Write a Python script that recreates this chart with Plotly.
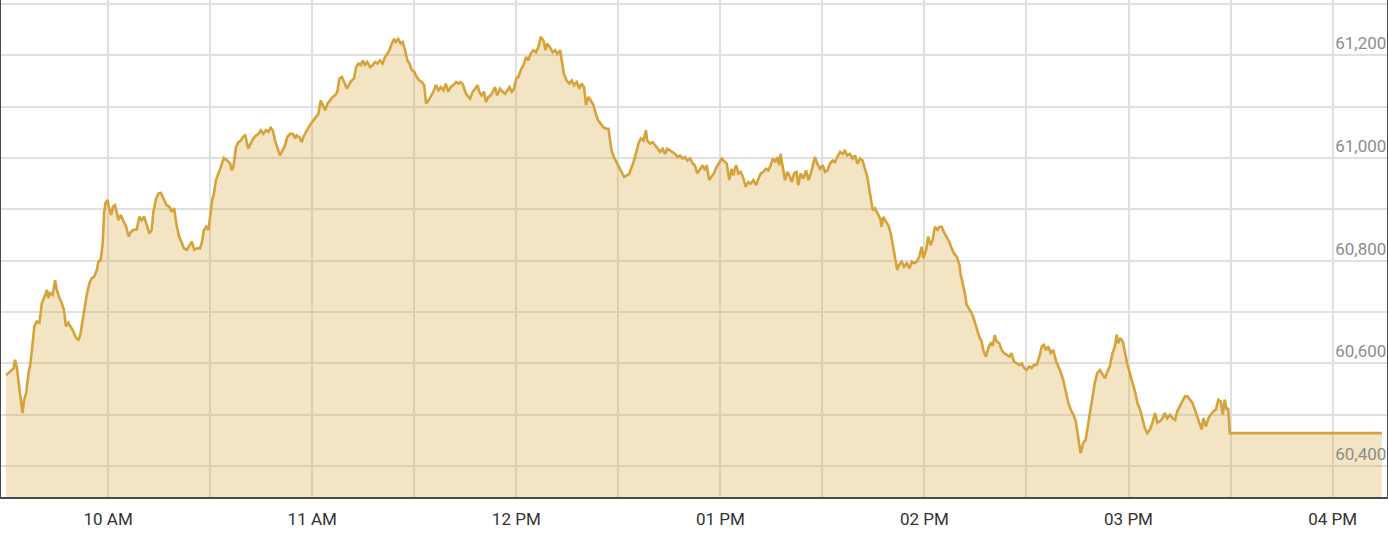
import pandas as pd
import plotly.graph_objects as go

# minutes after 09:30 and index level
minutes = [
    0, 2.2, 2.6, 3.1, 3.6, 4.3, 4.8, 5.3, 5.9, 6.6, 7.1, 7.7, 8.3, 9.0, 9.8, 10.5, 11.0, 11.5, 12.0, 12.4,
    12.9, 13.7, 14.4, 14.9, 15.7, 16.4, 17.0, 17.6, 18.3, 19.0, 19.8, 20.6, 21.3, 21.8, 22.2, 22.9, 23.7,
    24.5, 25.2, 25.9, 26.7, 27.1, 27.8, 28.4, 28.8, 29.2, 29.8, 30.4, 30.9, 31.4, 32.0, 32.5, 33.0, 33.7,
    34.5, 35.3, 36.0, 36.7, 37.4, 38.4, 39.2, 39.9, 40.6, 41.4, 42.1, 42.8, 43.3, 44.1, 44.8, 45.5, 46.3,
    47.2, 48.0, 48.7, 49.4, 50.2, 50.9, 51.6, 52.3, 53.1, 53.9, 54.6, 55.3, 56.1, 57.0, 57.5, 58.2, 58.8,
    59.5, 60.0, 60.6, 61.1, 61.7,
    63.0, 64.0, 65.0,
    65.9, 66.3, 66.8, 67.6, 68.3, 69.0, 69.6, 70.3, 70.8, 71.2, 71.9, 72.7, 73.5, 74.2, 74.9, 75.6, 76.4,
    77.1, 77.8, 78.4, 79.1, 79.8, 80.5, 81.3, 82.0, 82.7, 83.5, 84.3, 85.0, 85.4, 86.2, 86.9, 87.4, 88.2,
    88.9, 89.6, 90.3, 91.1, 91.8, 92.5, 93.1, 93.8, 94.5, 95.2, 96.0, 96.7, 97.4, 98.0, 98.7, 99.4, 100.2,
    101.0, 101.6, 102.3, 102.9, 103.6, 104.3, 104.9, 105.5, 106.2, 107.0, 107.8, 108.5, 109.2, 109.9,
    110.7, 111.4, 112.1, 112.7, 113.4, 114.1, 114.6, 115.3, 116.0, 116.6, 117.3, 118.0, 118.6, 119.3,
    120.0, 120.7, 121.5, 122.2, 122.9, 123.5, 124.2, 124.8, 125.6, 126.4, 127.1, 127.8, 128.6, 129.3,
    130.0, 130.7, 131.5, 132.3, 133.0,
    133.5, 134.2, 135.0, 135.6, 136.4, 137.2, 137.9, 138.6, 139.1, 139.8,
    140.5, 141.1, 141.8, 142.5, 143.3, 143.7, 144.4, 145.2, 146.0, 146.7,
    147.4, 148.0, 148.7, 149.3, 150.0, 150.6, 151.3, 152.1, 152.9, 153.5,
    154.2, 155.0, 155.8, 156.5, 157.2, 158.0, 158.6, 159.1, 159.9, 160.7,
    161.4, 162.1, 162.9, 163.4, 164.0, 164.8, 165.6, 166.3, 167.0, 167.8,
    168.5, 169.2, 169.9, 170.5, 171.2, 171.9, 172.7, 173.4, 174.1, 174.8,
    175.6, 176.4, 177.1, 177.6, 178.0, 178.7, 179.5, 180.3, 181.0, 181.7,
    182.5, 183.2, 183.9, 184.6, 185.4, 185.9, 186.6, 187.4, 188.1, 188.5,
    189.3, 190.1, 190.8, 191.5, 192.3, 193.0, 193.7, 194.4, 195.2, 196.0,
    196.7, 197.4, 198.1, 198.9, 199.6, 200.3,
    201.1, 201.9, 202.5, 203.2, 204.0, 204.8, 205.5, 206.0, 206.7, 207.5,
    208.1, 208.9, 209.7, 210.4, 211.1, 211.9, 212.6, 213.3, 213.8, 214.6,
    215.3, 216.0, 216.8, 217.4, 218.2, 218.9, 219.7, 220.5, 221.2, 221.9,
    222.6, 223.4, 224.1, 224.8, 225.4, 226.1, 226.8, 227.3, 227.7, 228.3,
    229.0, 229.7, 230.5, 231.0, 231.7, 232.4, 232.9, 233.6, 234.4, 235.2,
    235.9, 236.6, 237.3, 237.8, 238.5, 239.3, 240.1, 240.8, 241.5, 242.2,
    243.0, 243.7, 244.4, 245.2, 246.0, 246.6, 247.3, 248.1, 248.9, 249.6,
    250.3, 251.1, 251.8, 252.5, 253.2, 254.0, 254.8, 255.5, 256.2, 257.0,
    257.4, 257.9, 258.7, 259.4, 260.1, 260.7, 261.3, 262.0, 262.6, 263.3,
    264.0, 264.8, 265.6, 266.3, 266.9, 267.7, 268.5,
    269.2, 269.7, 270.5, 271.1, 271.8, 272.4, 273.1, 273.8, 274.4, 275.1,
    275.7, 276.5, 277.3, 278.0, 278.7, 279.5, 280.3, 280.6, 281.2, 281.9,
    282.4, 283.2, 283.9, 284.6, 285.3, 286.1, 286.8, 287.3, 288.1, 288.8,
    289.5, 290.1, 290.7, 291.2, 292.0, 292.7, 293.4, 294.2, 295.0, 295.6,
    296.3, 297.1, 297.9, 298.6, 299.3, 300.0, 300.8, 301.5, 302.2, 303.0,
    303.8, 304.5, 305.1, 305.7, 306.4, 307.1, 307.9, 308.7, 309.4, 310.0,
    310.8, 311.6, 312.3, 313.0, 313.8, 314.5, 315.2, 315.9, 316.7, 317.4,
    318.2, 318.9, 319.5, 320.1, 320.8, 321.6, 322.4, 323.1, 323.8, 324.5,
    325.3, 326.0, 326.5, 327.0, 327.5, 328.3, 329.0, 329.6, 330.4, 331.2,
    331.9, 332.6, 333.4, 334.2, 334.8, 335.5, 336.3, 337.0, 337.8, 338.5,
    339.2, 340.0, 340.7, 341.4, 342.2, 343.0, 343.7, 344.3, 345.1, 345.9,
    346.6, 347.3, 348.1, 348.8, 349.5, 350.2, 350.8, 351.5, 352.0, 352.8,
    353.5, 354.1, 354.9, 355.7, 356.4, 357.1, 357.7, 358.3, 358.8, 359.3,
    359.8, 404.5,
]

prices = [
    60577, 60590, 60607, 60594, 60568, 60529, 60503, 60529, 60542, 60581, 60597, 60633, 60672, 60681, 60679,
    60717, 60724, 60733, 60743, 60727, 60737, 60733, 60762, 60743, 60727, 60717, 60704, 60672, 60679, 60672,
    60662, 60649, 60646, 60655, 60672, 60704, 60733, 60756, 60766, 60769, 60782, 60798, 60801, 60834, 60892,
    60912, 60918, 60899, 60889, 60905, 60908, 60895, 60879, 60889, 60876, 60866, 60847, 60856, 60860, 60861,
    60886, 60879, 60886, 60866, 60853, 60860, 60895, 60921, 60931, 60932, 60921, 60908, 60905, 60895, 60902,
    60866, 60847, 60837, 60824, 60821, 60830, 60837, 60821, 60824, 60824, 60834, 60860, 60866, 60860, 60892,
    60918, 60931, 60957,
    60980, 61000, 60995,
    60989, 60976, 60982, 61021, 61031, 61034, 61041, 61044, 61031, 61018, 61028, 61038, 61044, 61047, 61054,
    61047, 61054, 61051, 61059, 61054, 61034, 61018, 61005, 61015, 61025, 61041, 61047, 61047, 61038, 61044,
    61041, 61031, 61041, 61051, 61060, 61067, 61073, 61080, 61086, 61112, 61103, 61093, 61106, 61112, 61119,
    61122, 61129, 61155, 61158, 61148, 61135, 61145, 61151, 61155, 61177, 61184, 61181, 61190, 61181, 61187,
    61177, 61181, 61187, 61184, 61190, 61184, 61197, 61203, 61210, 61223, 61232, 61226, 61232, 61223, 61226,
    61210, 61190, 61184, 61171, 61168, 61158, 61151, 61148, 61142, 61106, 61112, 61119, 61129, 61142, 61132,
    61138, 61132, 61145, 61129, 61138, 61142, 61148, 61145,
    61148, 61145, 61129, 61122, 61116, 61129, 61135, 61142, 61129, 61122,
    61129, 61109, 61119, 61122, 61132, 61138, 61122, 61135, 61129, 61125,
    61132, 61138, 61129, 61135, 61155, 61158, 61171, 61181, 61197, 61190,
    61203, 61210, 61206, 61216, 61236, 61229, 61210, 61223, 61216, 61206,
    61210, 61203, 61210, 61190, 61164, 61151, 61145, 61151, 61142, 61148,
    61135, 61145, 61138, 61103, 61119, 61112, 61103, 61086, 61073, 61067,
    61060, 61057, 61057, 61034, 61015, 61002, 60992, 60982, 60973, 60963,
    60966, 60969, 60982, 60995, 61015, 61028, 61038, 61034, 61054, 61034,
    61028, 61031, 61025, 61018, 61012, 61018, 61008, 61018, 61015, 61012,
    61008, 61002, 61005, 60999, 61002, 60995,
    60999, 60989, 60986, 60970, 60979, 60986, 60976, 60986, 60957, 60966,
    60970, 60983, 60992, 60999, 60994, 60989, 60957, 60979, 60966, 60986,
    60970, 60973, 60960, 60944, 60953, 60950, 60957, 60947, 60960, 60970,
    60973, 60979, 60976, 60986, 60999, 60992, 61002, 60986, 61008, 60983,
    60957, 60973, 60963, 60953, 60970, 60973, 60947, 60970, 60960, 60976,
    60957, 60970, 60989, 61002, 60989, 60979, 60986, 60973, 60976, 60989,
    60995, 60992, 61002, 61012, 61008, 61014, 61005, 61008, 60999, 61005,
    60989, 60999, 60995, 60976, 60963, 60931, 60898, 60902, 60892, 60882,
    60866, 60885, 60876, 60869, 60853, 60834, 60808, 60782, 60792, 60798,
    60788, 60795, 60785, 60798, 60795, 60798, 60808,
    60827, 60805, 60821, 60847, 60830, 60840, 60866, 60860, 60866, 60866,
    60856, 60847, 60837, 60824, 60814, 60808, 60792, 60775, 60759, 60736,
    60714, 60704, 60698, 60685, 60668, 60652, 60643, 60626, 60613, 60630,
    60639, 60636, 60655, 60643, 60639, 60626, 60620, 60617, 60613, 60620,
    60604, 60600, 60597, 60600, 60591, 60587, 60594, 60591, 60597, 60597,
    60613, 60633, 60636, 60626, 60633, 60620, 60626, 60604, 60594, 60584,
    60568, 60545, 60523, 60510, 60500, 60487, 60451, 60425, 60445, 60451,
    60484, 60513, 60536, 60562, 60581, 60587, 60578, 60571, 60584, 60594,
    60620, 60633, 60656, 60639, 60649, 60643, 60620, 60600, 60581, 60562,
    60545, 60523, 60510, 60490, 60474, 60464, 60471, 60484, 60503, 60484,
    60487, 60493, 60503, 60493, 60500, 60493, 60490, 60506, 60516, 60529,
    60536, 60536, 60529, 60523, 60510, 60497, 60484, 60471, 60493, 60477,
    60493, 60500, 60506, 60510, 60529, 60526, 60500, 60529, 60510, 60513,
    60464, 60464,
]

assert len(minutes) == len(prices), (len(minutes), len(prices))

x_tick_times = ["10:00", "10:30", "11:00", "11:30", "12:00", "12:30", "13:00",
                "13:30", "14:00", "14:30", "15:00", "15:30", "16:00"]
x_tick_labels = ["10 AM", "", "11 AM", "", "12 PM", "", "01 PM", "", "02 PM", "", "03 PM", "", "04 PM"]

y_tick_vals = [60400, 60500, 60600, 60700, 60800, 60900, 61000, 61100, 61200, 61300]
y_tick_labels = ["60,400", "", "60,600", "", "60,800", "", "61,000", "", "61,200", ""]

DAY = "2023-01-02 "
base = pd.Timestamp(DAY + "09:30")
times = [(base + pd.Timedelta(minutes=m)).strftime("%Y-%m-%d %H:%M:%S") for m in minutes]

fig = go.Figure()
fig.add_trace(go.Scatter(
    x=times, y=prices, mode="lines",
    line=dict(color="#D6A23A", width=2.6),
    fill="tozeroy", fillcolor="rgba(215,165,60,0.30)",
    hoverinfo="skip",
))

fig.update_layout(
    width=1388, height=560,
    margin=dict(l=1, r=1, t=0, b=63),
    paper_bgcolor="white", plot_bgcolor="white",
    showlegend=False,
    font=dict(family="Roboto", size=17, color="#333333"),
)
fig.update_xaxes(
    type="date",
    range=[DAY + "09:28:30", DAY + "16:16:00"],
    tickvals=[DAY + t for t in x_tick_times],
    ticktext=x_tick_labels,
    showgrid=True, gridcolor="#E0E0E0", gridwidth=1.6,
    showline=True, linecolor="#4a4a4a", linewidth=2,
    ticks="outside", ticklen=6, tickcolor="rgba(0,0,0,0)",
    ticklabeloverflow="allow",
    zeroline=False,
    tickfont=dict(family="Roboto", size=17, color="#333333"),
)
fig.update_yaxes(
    range=[60339.6, 61307.8],
    side="right",
    tickvals=y_tick_vals,
    ticktext=y_tick_labels,
    ticklabelposition="inside top",
    showgrid=True, gridcolor="#E0E0E0", gridwidth=1.6,
    showline=True, mirror=True, linecolor="#4a4a4a", linewidth=2,
    ticks="", zeroline=False,
    tickfont=dict(family="Roboto", size=17, color="#8c8c8c"),
)

fig.write_html("out.html", config={"displayModeBar": False},
               post_script="document.body.style.margin='0';document.body.style.overflow='hidden';")
